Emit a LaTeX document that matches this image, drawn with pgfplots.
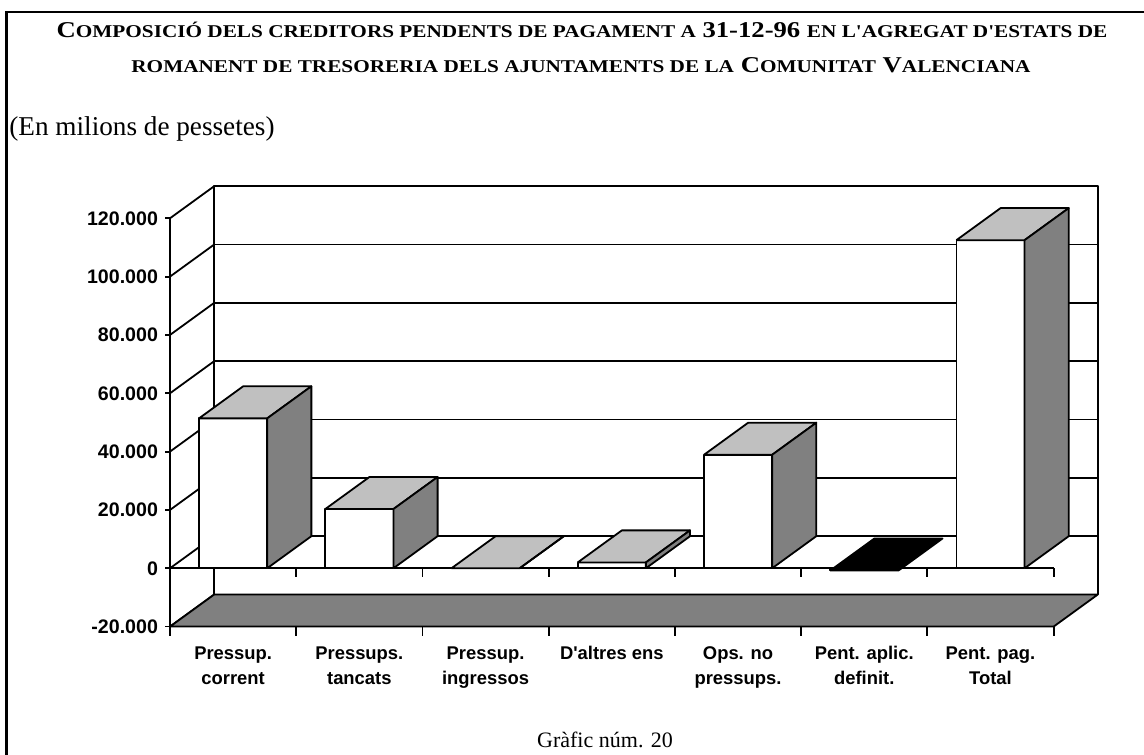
\documentclass[border=0pt]{standalone}
\usepackage{pgfplots}
\pgfplotsset{compat=1.18}
\usepackage{fontspec}
\setmainfont{Liberation Serif}
\newfontfamily\arial{Liberation Sans}
\definecolor{lg}{HTML}{C0C0C0}
\definecolor{dg}{HTML}{808080}
\newcommand\smc[1]{{\fontsize{9}{10}\selectfont #1}}
% 3D bar: #1 centre, #2 value, #3 value + depth offset
\newcommand\tdbar[3]{%
  \pgfmathsetmacro\L{#1-0.27}\pgfmathsetmacro\R{#1+0.27}%
  \pgfmathsetmacro\bL{#1+0.08}\pgfmathsetmacro\bR{#1+0.62}%
  \addplot[draw=black,fill=white] coordinates {(\L,0)(\R,0)(\R,#2)(\L,#2)(\L,0)};
  \addplot[draw=black,fill=lg] coordinates {(\L,#2)(\R,#2)(\bR,#3)(\bL,#3)(\L,#2)};
  \addplot[draw=black,fill=dg] coordinates {(\R,0)(\R,#2)(\bR,#3)(\bR,11000)(\R,0)};
}
\begin{document}
\begin{tikzpicture}
\path[use as bounding box] (0,0) rectangle (572pt,377pt);
\draw[line width=1.35pt] (3.35pt,-5pt) -- (3.35pt,371pt) -- (580pt,371pt);
\node[anchor=base,font=\bfseries\fontsize{11.3}{12}\selectfont,inner sep=0] at (291pt,358pt)
  {\scalebox{1.18}[1]{C\smc{OMPOSICIÓ DELS CREDITORS PENDENTS DE PAGAMENT A} 31-12-96 \smc{EN L\textquotesingle AGREGAT D\textquotesingle ESTATS DE}}};
\node[anchor=base,font=\bfseries\fontsize{11.3}{12}\selectfont,inner sep=0] at (290.5pt,340.5pt)
  {\scalebox{1.18}[1]{\smc{ROMANENT DE TRESORERIA DELS AJUNTAMENTS DE LA} C\smc{OMUNITAT} V\smc{ALENCIANA}}};
\node[anchor=base west,font=\fontsize{13.6}{15}\selectfont,inner sep=0] at (4.5pt,309pt)
  {(En milions de pessetes)};
\node[anchor=base,font=\fontsize{11}{13}\selectfont,inner sep=0] at (302.5pt,3.5pt)
  {Gràfic núm. 20};
\begin{axis}[
  at={(85pt,63.7pt)}, anchor=south west,
  scale only axis, width=463.9pt, height=220.2pt,
  xmin=0, xmax=7.35, ymin=-20000, ymax=131000,
  clip=false, scaled y ticks=false,
  axis line style={draw=none},
  tick pos=left, tick align=outside,
  ytick={-20000,0,20000,40000,60000,80000,100000,120000},
  yticklabels={-20.000,0,20.000,40.000,60.000,80.000,100.000,120.000},
  yticklabel style={font=\arial\bfseries\fontsize{9.8}{10}\selectfont},
  xtick={0.5,1.5,2.5,3.5,4.5,5.5,6.5},
  xticklabels={{Pressup.\\corrent},{Pressups.\\tancats},{Pressup.\\ingressos},{D'altres ens},{Ops. no\\pressups.},{Pent. aplic.\\definit.},{Pent. pag.\\Total}},
  xticklabel style={align=center,font=\arial\bfseries\fontsize{9.2}{12.5}\selectfont,yshift=-4pt},
  minor xtick={0,1,2,3,4,5,6,7},
  major x tick style={draw=none},
  major tick length=2.5pt, minor tick length=4.5pt,
  tick style={black,line width=0.9pt},
  every axis plot/.append style={line width=0.9pt,line join=round},
]
% back wall
\addplot[draw=black,fill=white] coordinates {(0.35,-9000)(7.35,-9000)(7.35,131000)(0.35,131000)(0.35,-9000)};
% back gridlines
\addplot[black] coordinates {(0.35,11000)(7.35,11000)};
\addplot[black] coordinates {(0.35,31000)(7.35,31000)};
\addplot[black] coordinates {(0.35,51000)(7.35,51000)};
\addplot[black] coordinates {(0.35,71000)(7.35,71000)};
\addplot[black] coordinates {(0.35,91000)(7.35,91000)};
\addplot[black] coordinates {(0.35,111000)(7.35,111000)};
% left side-wall diagonals
\addplot[black] coordinates {(0,-20000)(0.35,-9000)};
\addplot[black] coordinates {(0,0)(0.35,11000)};
\addplot[black] coordinates {(0,20000)(0.35,31000)};
\addplot[black] coordinates {(0,40000)(0.35,51000)};
\addplot[black] coordinates {(0,60000)(0.35,71000)};
\addplot[black] coordinates {(0,80000)(0.35,91000)};
\addplot[black] coordinates {(0,100000)(0.35,111000)};
\addplot[black] coordinates {(0,120000)(0.35,131000)};
% floor at -20000
\addplot[draw=black,fill=dg] coordinates {(0,-20000)(7,-20000)(7.35,-9000)(0.35,-9000)(0,-20000)};
% front value axis and category axis at 0
\addplot[black] coordinates {(0,-20000)(0,120000)};
\addplot[black] coordinates {(0,0)(7,0)};
\addplot[black] coordinates {(1,0)(1,-3100)};
\addplot[black] coordinates {(2,0)(2,-3100)};
\addplot[black] coordinates {(3,0)(3,-3100)};
\addplot[black] coordinates {(4,0)(4,-3100)};
\addplot[black] coordinates {(5,0)(5,-3100)};
\addplot[black] coordinates {(6,0)(6,-3100)};
\addplot[black] coordinates {(7,0)(7,-3100)};
% bars
\tdbar{0.5}{51400}{62400}
\tdbar{1.5}{20300}{31300}
\tdbar{2.5}{0}{11000}
\tdbar{3.5}{2000}{13000}
\tdbar{4.5}{38900}{49900}
% negative bar
\addplot[draw=black,fill=white] coordinates {(5.23,0)(5.77,0)(5.77,-800)(5.23,-800)(5.23,0)};
\addplot[draw=black,fill=black] coordinates {(5.23,-800)(5.77,-800)(6.12,10200)(5.58,10200)(5.23,-800)};
\tdbar{6.5}{112500}{123500}
\end{axis}
\end{tikzpicture}
\end{document}
